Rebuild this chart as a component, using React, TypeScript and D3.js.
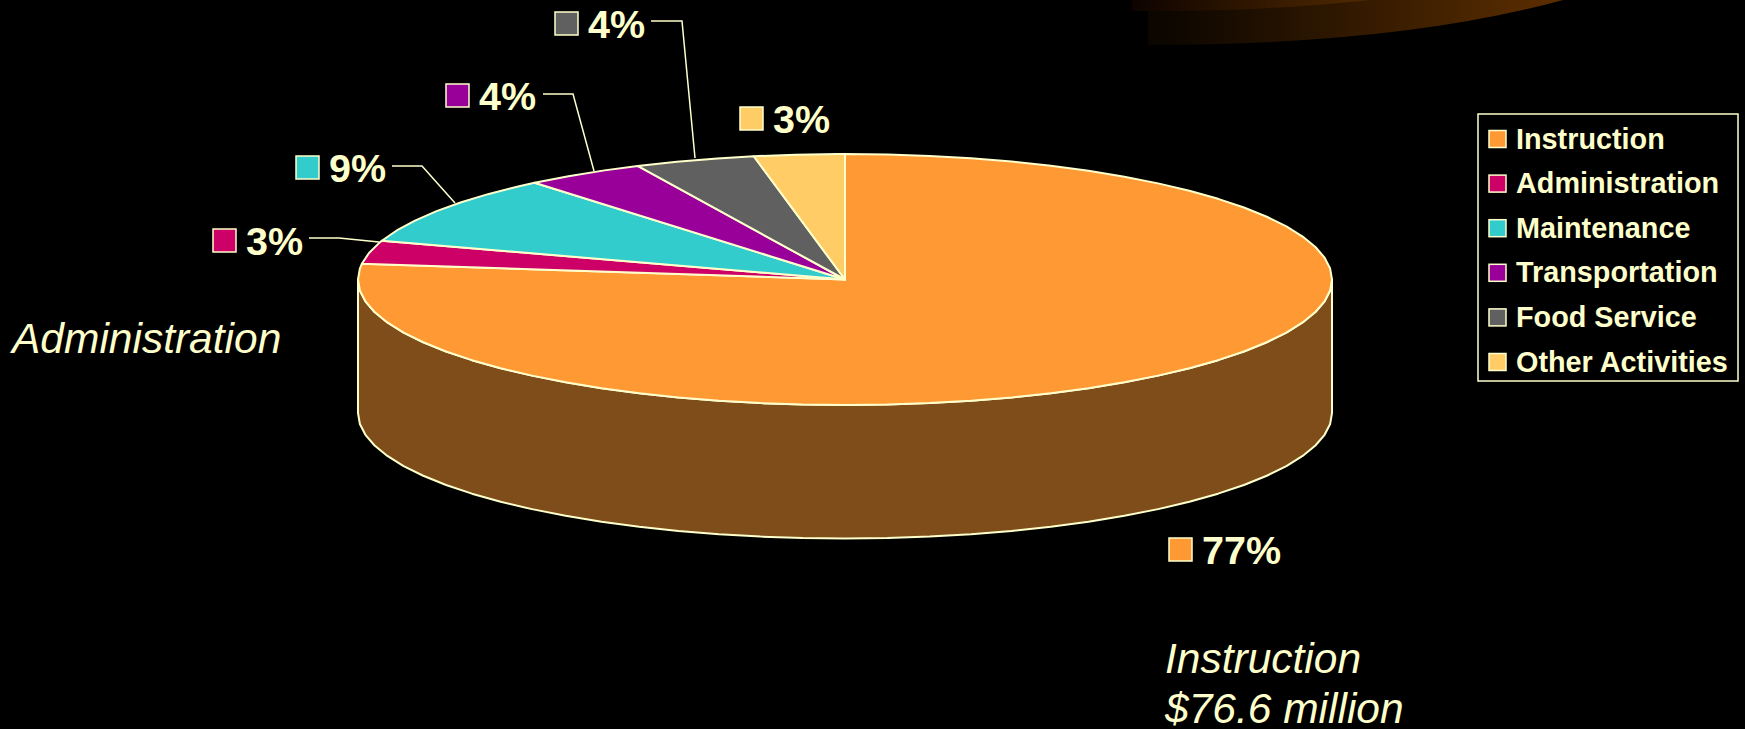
import React from "react";
import * as d3 from "d3";

// Spending shares, in percent, clockwise from twelve o'clock.
const categories = ["Instruction", "Administration", "Maintenance", "Transportation", "Food Service", "Other Activities"];
const shares = [77, 3, 9, 4, 4, 3];
const colors = ["#FF9933", "#CC0066", "#33CCCC", "#990099", "#606060", "#FFCC66"];
const labelBoxes = [
  { x: 1169, y: 538, tx: 1202, ty: 564 },
  { x: 213, y: 229, tx: 246, ty: 255 },
  { x: 296, y: 156, tx: 329, ty: 182 },
  { x: 446, y: 84, tx: 479, ty: 110 },
  { x: 555, y: 12, tx: 588, ty: 38 },
  { x: 740, y: 107, tx: 773, ty: 133 },
];
const leaders: ([number, number][] | null)[] = [
  null,
  [[309, 238], [339, 238], [379, 242]],
  [[392, 166], [422, 166], [455, 203]],
  [[543, 94], [573, 94], [594, 171]],
  [[651, 21], [682, 21], [695, 158]],
  null,
];

const CREAM = "#FFFFCC";
const cx = 845, cy = 279.5, rx = 487, ry = 125.5, depth = 133.5;
const STEP = Math.PI / 36;

const xScale = d3.scaleLinear().domain([-1, 1]).range([cx - rx, cx + rx]);
const yScale = d3.scaleLinear().domain([-1, 1]).range([cy - ry, cy + ry]);
const rim = (a: number, drop = 0): [number, number] => [xScale(Math.sin(a)), yScale(-Math.cos(a)) + drop];
const line = d3.line();

const arcs = d3.pie<number>().sort(null)(shares);

// Angles from a to b at a fixed step, with both ends included.
const sweep = (a: number, b: number) => [...d3.range(a, b, STEP), b];

const slicePath = (a: number, b: number) =>
  line([[xScale(0), yScale(0)], ...sweep(a, b).map((t) => rim(t))]) + "Z";

const sidePath = () => {
  const front = sweep(Math.PI / 2, (3 * Math.PI) / 2);
  return line([...front.map((t) => rim(t)), ...front.slice().reverse().map((t) => rim(t, depth))]) + "Z";
};

export default function App() {
  return (
    <svg
      width={1745}
      height={729}
      style={{ position: "absolute", left: 0, top: 0, display: "block", background: "#000" }}
      fontFamily="'Liberation Sans', Arial, sans-serif"
    >
      <defs>
        <linearGradient id="glow" gradientUnits="userSpaceOnUse" x1={1165} y1={0} x2={1560} y2={0}>
          <stop offset="0" stopColor="#0C0600" />
          <stop offset="1" stopColor="#5C2E00" />
        </linearGradient>
        <linearGradient id="glowInner" gradientUnits="userSpaceOnUse" x1={1132} y1={0} x2={1370} y2={0}>
          <stop offset="0" stopColor="#0E0300" />
          <stop offset="1" stopColor="#522A00" />
        </linearGradient>
      </defs>

      {/* Decorative swoosh in the top right corner */}
      <path d="M1148 0H1563Q1400 45 1148 45Z" fill="url(#glow)" />
      <path d="M1132 0H1370Q1260 12 1132 11Z" fill="url(#glowInner)" />

      {/* Pie wall and top face */}
      <path d={sidePath()} fill="#7F4D1A" stroke={CREAM} strokeWidth={2} strokeLinejoin="round" />
      {arcs.map((d, i) => (
        <path
          key={categories[i]}
          d={slicePath(d.startAngle, d.endAngle)}
          fill={colors[i]}
          stroke={CREAM}
          strokeWidth={2}
          strokeLinejoin="round"
        />
      ))}

      {/* Leader lines from the percent labels */}
      {leaders.map((pts, i) =>
        pts ? <path key={i} d={line(pts) ?? ""} fill="none" stroke={CREAM} strokeWidth={1.5} /> : null
      )}

      {/* Percent labels with colour keys */}
      {labelBoxes.map((b, i) => (
        <g key={i}>
          <rect x={b.x} y={b.y} width={23} height={23} fill={colors[i]} stroke={CREAM} strokeWidth={1.5} />
          <text x={b.tx} y={b.ty} fontSize={39.5} fontWeight={700} fill={CREAM}>
            {shares[i]}%
          </text>
        </g>
      ))}

      {/* Legend */}
      <rect x={1478} y={114} width={260} height={267} fill="#000" stroke={CREAM} strokeWidth={1.5} />
      {categories.map((c, i) => {
        const y = d3.scaleLinear().domain([0, 5]).range([139, 362])(i);
        return (
          <g key={c}>
            <rect x={1489} y={y - 8.5} width={17} height={17} fill={colors[i]} stroke={CREAM} strokeWidth={1.5} />
            <text x={1516} y={y + 9.5} fontSize={28.8} fontWeight={700} fill={CREAM}>
              {c}
            </text>
          </g>
        );
      })}

      {/* Callouts */}
      <g fontSize={42.5} fontStyle="italic" fill={CREAM}>
        <text x={12} y={353}>Administration</text>
        <text x={1165} y={673}>Instruction</text>
        <text x={1165} y={723}>$76.6 million</text>
      </g>
    </svg>
  );
}
